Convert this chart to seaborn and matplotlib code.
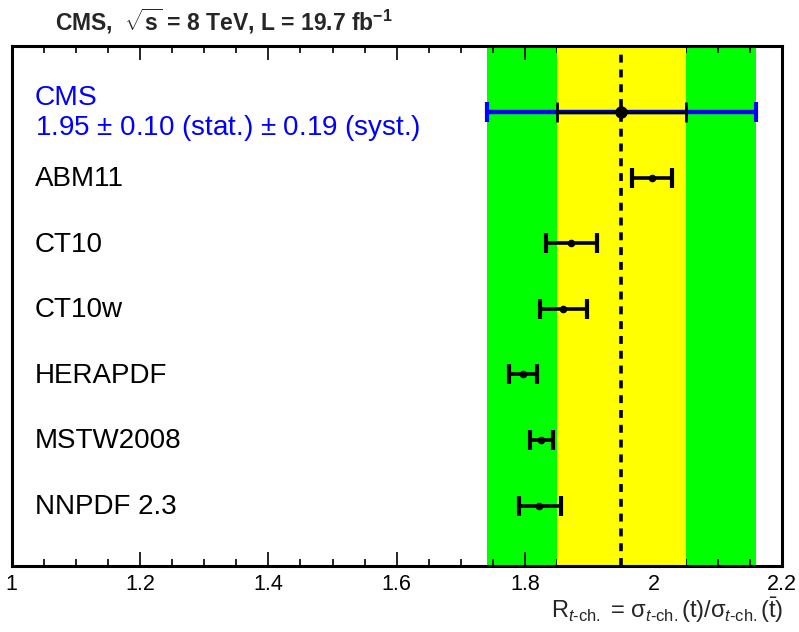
import numpy as np
import pandas as pd
import matplotlib
matplotlib.use("Agg")
import matplotlib.pyplot as plt
import seaborn as sns

# ---- data ----
models = ["ABM11", "CT10", "CT10w", "HERAPDF", "MSTW2008", "NNPDF 2.3"]
model_vals = [1.997, 1.872, 1.859, 1.797, 1.825, 1.822]
model_err_lo = [0.030, 0.039, 0.036, 0.022, 0.018, 0.032]
model_err_hi = [0.032, 0.040, 0.037, 0.022, 0.018, 0.034]

cms_val = 1.95
cms_stat = 0.10
cms_total = 0.21
cms_label_1 = "CMS"
cms_label_2 = "1.95 $\\pm$ 0.10 (stat.) $\\pm$ 0.19 (syst.)"

xticks = [1.0, 1.2, 1.4, 1.6, 1.8, 2.0, 2.2]
xtick_labels = ["1", "1.2", "1.4", "1.6", "1.8", "2", "2.2"]

sns.set_theme(style="ticks")
plt.rcParams["font.family"] = ["Liberation Sans", "DejaVu Sans"]
plt.rcParams["mathtext.fontset"] = "custom"
plt.rcParams["mathtext.rm"] = "Liberation Sans"
plt.rcParams["mathtext.it"] = "Liberation Sans:italic"
plt.rcParams["mathtext.bf"] = "Liberation Sans:bold"
plt.rcParams["mathtext.sf"] = "Liberation Sans"

fig = plt.figure(figsize=(7.99, 6.32), dpi=100)
ax = fig.add_axes([11.5 / 799, 1 - 566 / 632, (782 - 11.5) / 799, (566 - 46) / 632])

# bands
ax.axvspan(cms_val - cms_total, cms_val + cms_total, color="#00ff00", lw=0, zorder=0.5)
ax.axvspan(cms_val - cms_stat, cms_val + cms_stat, color="#ffff00", lw=0, zorder=0.6)
ax.axvline(cms_val, color="black", lw=2.6, dashes=(2.2, 1.9), zorder=1)

# positions: CMS at 0, models at 1..6
df = pd.DataFrame({"model": models, "val": model_vals,
                   "lo": model_err_lo, "hi": model_err_hi})
df["pos"] = np.arange(1, len(models) + 1)

# CMS total (blue) and stat (black)
ax.errorbar([cms_val], [0], xerr=[[cms_total], [cms_total]], fmt="none",
            ecolor="#0000ff", elinewidth=3.2, capsize=7, capthick=3, zorder=3)
ax.errorbar([cms_val], [0], xerr=[[cms_stat], [cms_stat]], fmt="none",
            ecolor="black", elinewidth=2.4, capsize=7, capthick=2, zorder=4)
sns.scatterplot(x=[cms_val], y=[0], ax=ax, color="black", s=80,
                edgecolor="black", linewidth=0, zorder=5)

# model error bars and points
ax.errorbar(df["val"], df["pos"], xerr=[df["lo"], df["hi"]], fmt="none",
            ecolor="black", elinewidth=2.6, capsize=7, capthick=3, zorder=3)
sns.scatterplot(data=df, x="val", y="pos", ax=ax, color="black", s=30,
                edgecolor="black", linewidth=0, zorder=5)

# labels
ax.text(0.0305, -0.22, cms_label_1, transform=ax.get_yaxis_transform(),
        color="#0000ff", fontsize=20.3, va="center", ha="left")
ax.text(0.0305, 0.24, cms_label_2, transform=ax.get_yaxis_transform(),
        color="#0000ff", fontsize=20, va="center", ha="left")
for name, pos in zip(df["model"], df["pos"]):
    ax.text(0.0305, pos + 0.02, name, transform=ax.get_yaxis_transform(),
            color="black", fontsize=20, va="center", ha="left")

ax.set_xlim(1.0, 2.2)
ax.set_ylim(6.92, -1.006)
ax.set_yticks([])
ax.set_xticks(xticks)
ax.set_xticklabels(xtick_labels, fontsize=15.5)
ax.xaxis.set_minor_locator(matplotlib.ticker.MultipleLocator(0.05))
ax.tick_params(axis="x", which="major", direction="in", length=10, width=1.2,
               top=True, bottom=True, pad=6, color="black", labelcolor="black")
ax.tick_params(axis="x", which="minor", direction="in", length=5, width=1.2,
               top=True, bottom=True, color="black")
ax.set_xlabel("")
ax.set_ylabel("")
for sp in ax.spines.values():
    sp.set_linewidth(2.2)
    sp.set_color("black")
    sp.set_visible(True)
    sp.set_zorder(6)

fig.text(783 / 799, 1 - 618 / 632,
         r"R$_{t\mathrm{\text{-}ch.}}$ = σ$_{t\mathrm{\text{-}ch.}}$(t)/σ$_{t\mathrm{\text{-}ch.}}$($\bar{\mathrm{t}}$)",
         ha="right", va="baseline", fontsize=17)

fig.text(55 / 799, 1 - 30 / 632,
         r"CMS,  $\mathbf{\sqrt{s}}$ = 8 TeV, L = 19.7 fb$\mathbf{^{-1}}$",
         ha="left", va="baseline", fontsize=16.5, fontweight="bold")

fig.savefig("out.png", dpi=100)
